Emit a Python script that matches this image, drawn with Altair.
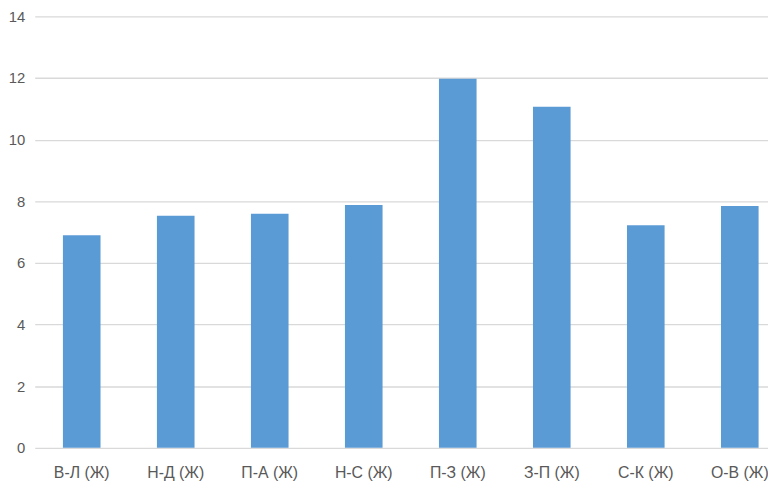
import altair as alt
import pandas as pd

categories = ["В-Л (Ж)", "Н-Д (Ж)", "П-А (Ж)", "Н-С (Ж)", "П-З (Ж)", "З-П (Ж)", "С-К (Ж)", "О-В (Ж)"]
values = [6.9, 7.53, 7.6, 7.88, 11.98, 11.07, 7.22, 7.85]
y_ticks = [0, 2, 4, 6, 8, 10, 12, 14]

df = pd.DataFrame({"cat": categories, "val": values})

FONT = "Liberation Sans"
TXT = "#595959"

chart = alt.Chart(df).mark_bar(color="#5B9BD5").encode(
    x=alt.X("cat:N", sort=categories, title=None,
            scale=alt.Scale(paddingInner=0.6, paddingOuter=0.2, align=0.75),
            axis=alt.Axis(labelAngle=0, domain=False, ticks=False, labelPadding=17,
                          labelFont=FONT, labelFontSize=16, labelColor=TXT, grid=False)),
    y=alt.Y("val:Q", title=None,
            scale=alt.Scale(domain=[0, 14], nice=False),
            axis=alt.Axis(values=y_ticks, domain=False, ticks=False, labelPadding=10,
                          labelFont=FONT, labelFontSize=15, labelColor=TXT,
                          grid=True, gridColor="#D9D9D9", gridWidth=1.3)),
).properties(
    width=741, height=436,
    autosize=alt.AutoSizeParams(type="none"),
    padding={"left": 27, "top": 6, "right": 0, "bottom": 32},
).configure_view(stroke=None)

chart.save("out.html", embed_options={"renderer": "svg", "actions": False})
